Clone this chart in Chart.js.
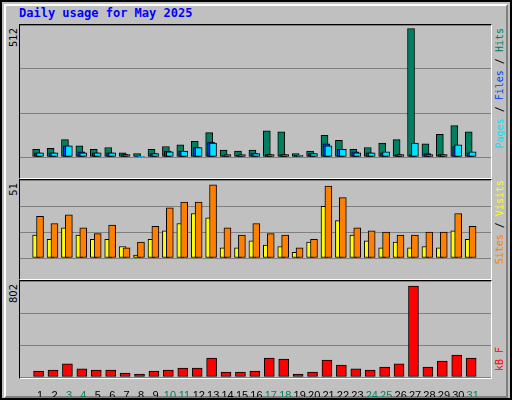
<!DOCTYPE html>
<html><head><meta charset="utf-8">
<script src="https://cdn.jsdelivr.net/npm/chart.js@4.4.0/dist/chart.umd.min.js"></script>
<style>
body{margin:0;background:#fff}
#f{position:absolute;left:0;top:0;width:508px;height:396px;background:#c0c0c0;border:2px solid #000}
.bev{position:absolute;left:2px;top:2px;width:500px;height:390px;border-top:2px solid #fff;border-left:2px solid #fff;border-right:2px solid #808080;border-bottom:2px solid #808080}
.panel{position:absolute;border-top:1px solid #000;border-left:1px solid #000;border-right:1px solid #fff;border-bottom:1px solid #fff}
.w{position:absolute}
.t{position:absolute;font-family:"DejaVu Sans Mono",monospace;white-space:nowrap}
.v{writing-mode:vertical-rl;transform:rotate(180deg)}
</style></head><body>
<div id="f"><div class="bev"></div></div>
<div class="t" style="left:19px;top:6px;font-size:12px;font-weight:bold;color:#0000ff">Daily usage for May 2025</div>
<div class="panel" style="left:19px;top:24px;width:471px;height:153px"></div>
<div class="panel" style="left:19px;top:179px;width:471px;height:99px"></div>
<div class="panel" style="left:19px;top:280px;width:471px;height:97px"></div>
<div class="t v" style="left:8px;top:28px;font-family:'DejaVu Sans';font-size:10px">512</div>
<div class="t v" style="left:8px;top:183px;font-family:'DejaVu Sans';font-size:10px">51</div>
<div class="t v" style="left:8px;top:284px;font-family:'DejaVu Sans';font-size:10px">802</div>
<div class="t v" style="left:494px;top:28px;font-size:10px"><span style="color:#00e0ff">Pages</span> / <span style="color:#0040ff">Files</span> / <span style="color:#008060">Hits</span></div>
<div class="t v" style="left:494px;top:180px;font-size:10px"><span style="color:#ff8000">Sites</span> / <span style="color:#ffff00">Visits</span></div>
<div class="t v" style="left:494px;top:347px;font-size:10px;color:#ff0000">kB F</div>
<div class="w" style="left:20px;top:25px;width:471px;height:152px"><canvas id="c1"></canvas></div>
<div class="w" style="left:20px;top:180px;width:471px;height:98px"><canvas id="c2"></canvas></div>
<div class="w" style="left:20px;top:281px;width:471px;height:116px"><canvas id="c3"></canvas></div>
<script>
const days=[1,2,3,4,5,6,7,8,9,10,11,12,13,14,15,16,17,18,19,20,21,22,23,24,25,26,27,28,29,30,31];
const weekend=[3,4,10,11,17,18,24,25,31];
const hits=[31,35,69,45,31,38,17,14,31,42,48,62,97,28,24,28,104,100,14,24,86,66,31,38,55,69,512,52,90,125,100];
const files=[17,17,45,21,17,17,10,3,14,24,24,38,59,7,7,14,10,10,7,14,52,31,21,17,17,10,10,14,10,42,17];
const pages=[17,17,45,17,17,17,10,1,14,21,24,38,55,10,10,14,10,10,7,14,45,31,17,17,21,10,55,10,10,48,21];
const visits=[29,24,30,21,17,23,7,11,22,35,39,39,51,21,16,24,17,16,7,13,50,42,21,19,18,16,16,18,18,31,22];
const sites=[16,13,21,16,13,13,8,2,13,19,24,31,28,7,7,12,9,8,4,11,36,26,16,12,7,11,7,8,7,19,13];
const kbytes=[53,62,115,71,62,62,35,26,53,62,79,79,167,44,44,53,167,159,26,44,150,106,71,62,88,115,802,88,141,194,167];
const xy=(arr,off)=>arr.map((v,i)=>({x:days[i]+off,y:v}));
function ds(arr,off,color,w,order){return {data:xy(arr,off),backgroundColor:color,borderColor:'#000',borderWidth:1,borderSkipped:false,barThickness:w,grouped:false,order:order};}
function make(id,datasets,ymax,showX){
  new Chart(document.getElementById(id),{type:'bar',data:{datasets},
    options:{responsive:true,maintainAspectRatio:false,animation:false,events:[],layout:{padding:0},
      plugins:{legend:{display:false},tooltip:{enabled:false}},
      scales:{
        x:{type:'linear',min:0.128,max:31.74,display:showX,grid:{display:false},border:{display:false},
           afterFit:a=>{a.height=20},
           afterBuildTicks:a=>{a.ticks=days.map(d=>({value:d}))},
           ticks:{autoSkip:false,maxRotation:0,padding:4,font:{family:'Liberation Sans',size:11},
             color:c=>weekend.includes(c.tick.value)?'#008060':'#000',callback:v=>String(v)}},
        y:{min:0,max:ymax,afterBuildTicks:a=>{a.ticks=[0,ymax/3,2*ymax/3,ymax].map(v=>({value:v}))},
           display:true,ticks:{display:false},border:{display:false},
           afterFit:a=>{a.width=0},grid:{color:'#808080',lineWidth:1,drawTicks:false}}
      }}});
}
make('c1',[ds(hits,-0.28,'#008060',7,2),ds(files,-0.15,'#0040ff',7,1),ds(pages,-0.01,'#00e0ff',7,0)],526,false);
make('c2',[ds(sites,-0.28,'#ffff00',7,1),ds(visits,-0.01,'#ff8000',7,0)],54.3,false);
make('c3',[ds(kbytes,-0.11,'#ff0000',10,0)],846,true);
</script></body></html>
